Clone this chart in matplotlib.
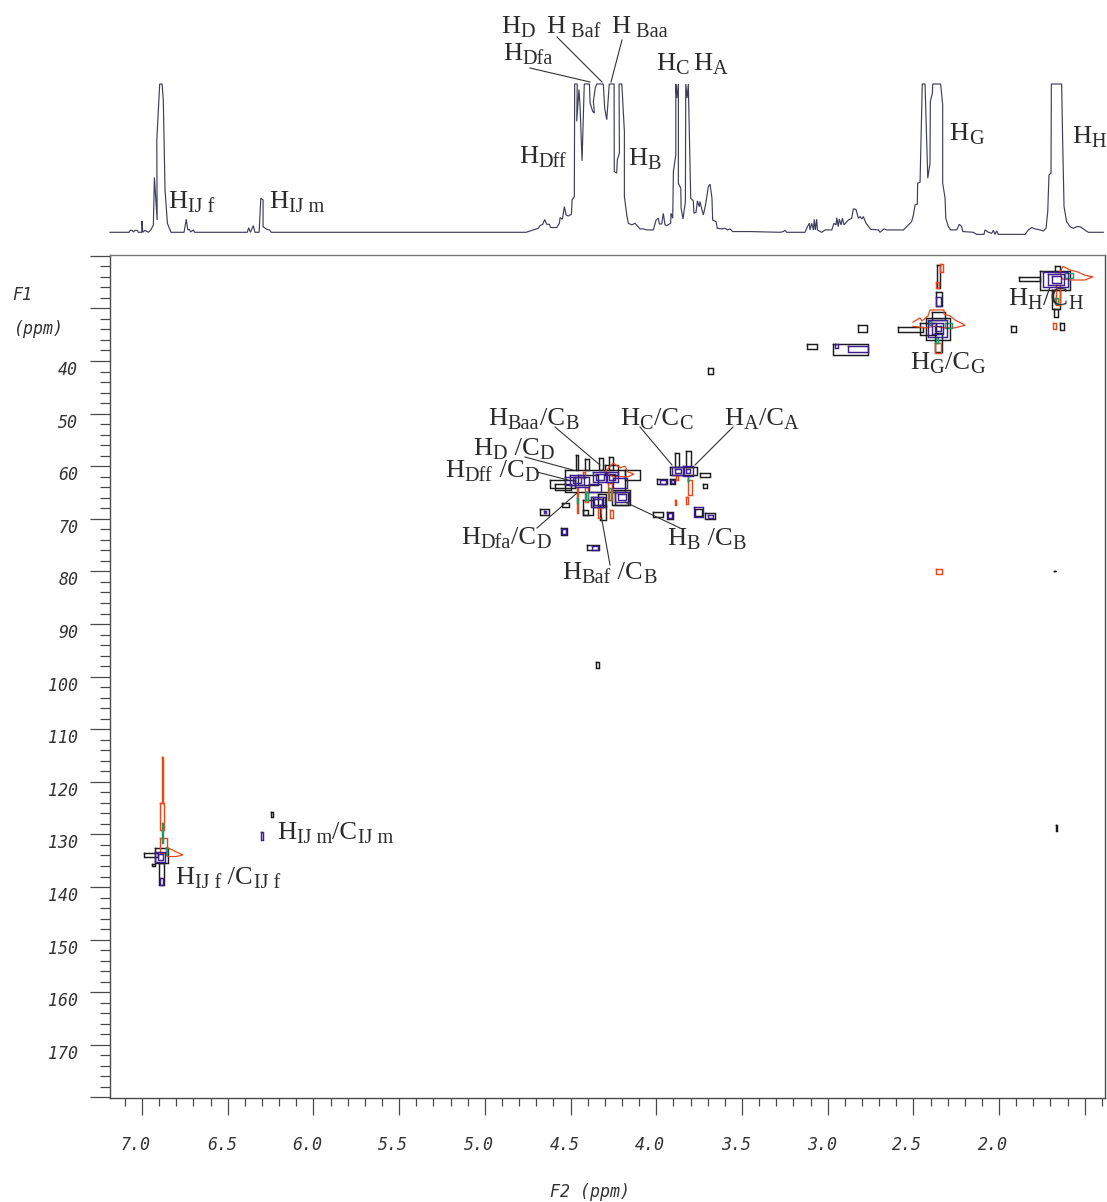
import matplotlib
matplotlib.use("Agg")
import matplotlib.pyplot as plt
from matplotlib.lines import Line2D
from matplotlib.transforms import ScaledTranslation

W, H = 1107, 1202
DPI = 100

# ---- 1D projection (F2 ppm, clipped intensity %) ----
trace_ppm = [7.187,7.076,7.070,7.058,7.051,7.041,7.027,7.022,7.002,7.000,6.996,6.983,6.963,6.949,6.934,6.928,6.912,6.914,6.897,6.883,6.876,6.866,6.852,6.831,
             6.755,6.742,6.733,6.724,6.716,6.701,6.693,6.386,6.378,6.368,6.351,6.341,6.317,6.307,6.294,6.294,6.272,6.257,6.246,
             4.760,4.736,4.688,4.678,4.662,4.651,4.639,4.624,4.616,4.581,4.565,4.561,4.548,4.536,4.526,4.513,4.495,4.491,4.478,4.476,4.461,4.464,4.451,4.445,4.433,4.420,
             4.390,4.386,4.371,4.361,4.367,4.356,4.347,4.309,4.301,4.289,4.274,4.246,4.245,4.231,4.227,4.215,4.217,4.201,4.186,4.186,4.172,4.163,4.143,4.124,4.095,
             4.075,4.056,4.017,4.001,3.988,3.982,3.968,3.959,3.949,3.939,3.916,3.914,3.904,3.900,3.886,3.886,3.880,3.871,3.871,3.857,3.855,3.844,3.830,3.828,3.820,3.813,
             3.799,3.784,3.780,3.768,3.760,3.749,3.745,3.731,3.725,3.711,3.696,3.686,3.675,3.671,3.651,3.644,3.618,3.599,3.585,3.570,3.554,3.453,
             3.278,3.258,3.249,3.239,3.132,3.118,3.107,3.103,3.093,3.083,3.078,3.072,3.064,3.060,3.035,3.015,2.976,2.963,2.951,2.947,2.938,2.932,2.922,2.914,2.905,2.879,2.860,2.850,2.835,2.821,2.811,2.801,2.792,2.776,2.749,2.704,2.695,2.671,2.656,
             2.558,2.510,2.500,2.490,2.477,2.475,2.461,2.448,2.432,2.416,2.403,2.401,2.389,2.387,2.341,2.329,2.329,2.315,2.311,2.296,2.282,2.247,2.232,2.218,2.212,2.150,2.131,2.088,2.082,2.062,2.043,2.033,2.024,2.014,2.004,
             1.849,1.829,1.810,1.790,1.761,1.742,1.726,1.716,1.709,1.697,1.695,1.635,1.629,1.621,1.606,1.586,1.567,1.547,1.528,1.499,1.479,1.392]
trace_int = [0,0,1.3,1.3,0.2,1.3,1.3,0,0,7.6,0,1.3,0,1.6,4.9,36.9,8.3,62,100,100,89,28.5,6,0,
             0,8.8,1.6,2,0.2,1.6,0,0,3.1,0,4.5,0,0,23,21.8,3.8,2,1.6,0,
             0,0.9,2.7,4.5,5.4,8.6,5.4,5.4,3.2,3.2,6.1,9.9,8.8,17.3,11.7,11,12.2,21.8,24.1,100,100,74.8,96.2,86,48.2,100,
             100,87.2,81.5,80.4,88.3,97.3,100,100,83.8,75.9,100,100,41,39.9,48.9,53.4,100,100,68,24.1,11.7,6.1,5,6.1,2.3,
             2.3,1.6,1.6,8.3,9.5,5.6,5.6,12.8,5,4.5,6.1,12.8,9.5,41,52.3,100,90.5,100,33.1,29.7,16.2,9,20.7,100,90.5,100,
             23,21.2,12.8,13.5,21.2,17.3,20.7,14,11.7,19.6,30.9,32.4,23,8.3,7.2,2.7,2.3,2.7,1.6,2.3,0.5,0.5,
             0,0.5,1.4,0,0,3.8,6.1,1.6,6.1,1.6,8.8,1.6,8.8,1.6,0,1.6,1.6,6.1,5,9.9,3.8,9,5,9.5,5,8.3,9.5,15.8,15.5,9.5,10.6,9,10.6,6.1,2,1.6,0,2.3,1.6,
             1.6,7.2,11.7,18.5,18.9,33.1,33.8,100,100,36.5,46.6,88.3,93.9,100,100,86,33.1,23,9.5,3.8,1.6,1.6,5.4,3.8,0.5,0,-1.4,-1.4,1.6,0,-0.7,1.4,-1.4,0.9,-1.4,
             -1.4,1.6,3.2,2.3,1.6,0.9,2.7,14,38.7,39.9,100,100,61.3,17.3,7.2,3.8,2.7,3.8,3.8,1.6,0,0]

# ---- 2D cross peaks: (F2 start, F2 end, F1 start, F1 end) ----
black_peaks = [
    (2.590,2.444,33.5,34.5),(2.461,2.368,32.8,35.1),(2.362,2.345,21.8,26.1),(2.368,2.333,26.9,29.6),(2.374,2.333,34.7,38.3),(2.426,2.286,31.8,36.0),(2.391,2.315,30.7,32.2),
    (1.883,1.761,24.0,24.8),(1.761,1.586,22.9,26.5),(1.673,1.644,21.9,23.1),(1.691,1.644,26.5,30.2),(1.679,1.655,30.2,31.6),(1.644,1.621,32.8,34.1),(1.930,1.901,33.4,34.5),
    (4.620,4.474,62.6,64.1),(4.468,4.456,57.9,60.7),(4.416,4.392,58.6,60.7),(4.334,4.311,58.4,60.7),(4.276,4.252,58.2,60.7),(4.532,4.182,60.7,64.9),(4.369,4.311,65.8,67.7),
    (4.427,4.398,68.3,69.3),(4.258,4.153,64.5,67.4),(4.328,4.293,67.4,70.2),(4.182,4.095,60.7,62.6),(4.456,4.340,61.7,63.6),(4.299,4.223,59.8,61.7),
    (4.427,4.369,66.4,69.3),(4.340,4.293,65.2,67.7),(4.241,4.165,64.9,67.4),(4.590,4.500,63.4,64.6),
    (4.678,4.626,68.1,69.3),(4.550,4.509,67.0,67.7),(4.556,4.521,71.7,73.1),(4.404,4.334,75.0,75.9),(4.019,3.960,68.7,69.6),(3.937,3.902,68.7,70.0),(3.774,3.733,68.1,69.5),
    (3.715,3.657,68.9,70.0),(3.996,3.937,62.4,63.4),(3.920,3.891,62.4,63.4),(3.745,3.686,61.3,62.0),(3.727,3.704,63.4,64.1),
    (3.920,3.762,60.1,61.7),(3.891,3.867,57.5,60.1),(3.826,3.797,57.1,60.1),
    (3.120,3.062,36.8,37.7),(2.969,2.764,36.8,38.9),(2.823,2.770,33.2,34.5),(3.698,3.669,41.3,42.5),(4.351,4.334,97.2,98.3),
    (1.679,1.667,79.9,80.0),(1.667,1.664,128.2,129.3),
    (6.988,6.907,133.5,134.2),(6.924,6.848,132.5,135.4),(6.901,6.872,135.4,139.6),(6.942,6.924,135.6,136.0),(6.247,6.236,125.7,126.6),
]
purple_peaks = [
    (2.414,2.303,32.2,35.4),(2.391,2.327,32.8,34.9),(2.374,2.339,33.4,34.3),(2.368,2.339,27.8,29.6),
    (1.743,1.597,23.1,25.9),(1.714,1.621,23.5,25.6),(1.691,1.638,23.9,25.2),
    (4.503,4.421,61.7,63.6),(4.486,4.439,62.0,63.2),(4.369,4.287,61.1,63.0),(4.351,4.305,61.5,62.6),(4.293,4.223,61.1,63.0),(4.276,4.241,61.5,62.6),(4.252,4.170,62.2,64.1),
    (4.381,4.299,65.8,67.7),(4.363,4.316,66.2,67.4),(4.241,4.159,64.9,66.8),(4.223,4.176,65.3,66.4),(4.392,4.322,63.4,64.9),(4.474,4.392,62.0,63.9),(4.532,4.474,62.0,63.6),
    (4.655,4.643,68.5,68.9),(4.550,4.526,71.9,72.9),(4.375,4.340,75.2,75.9),(3.931,3.908,68.9,69.8),(3.780,3.727,67.7,69.6),(3.698,3.669,69.3,69.8),(3.978,3.943,62.6,63.4),(3.914,3.896,62.6,63.2),
    (3.908,3.838,60.1,61.7),(3.891,3.855,60.5,61.3),(3.844,3.786,60.0,61.9),(3.826,3.803,60.5,61.3),
    (2.881,2.764,37.2,38.3),(2.957,2.939,36.8,37.5),
    (6.924,6.866,133.3,135.2),(6.907,6.877,133.7,134.8),(6.895,6.877,138.2,139.6),(6.306,6.294,129.5,131.0),
]
red_peaks = [
    (2.374,2.339,36.6,38.5),(2.345,2.327,21.6,23.1),(2.368,2.351,25.0,26.1),
    (1.667,1.644,25.6,29.4),(1.685,1.667,32.8,33.9),
    (4.465,4.456,64.1,68.9),(4.416,4.398,63.9,66.8),(4.282,4.258,63.2,66.4),(4.270,4.252,68.3,69.8),(4.340,4.322,67.9,69.8),(4.427,4.416,61.1,62.2),
    (3.885,3.873,61.7,62.6),(3.815,3.791,62.6,65.5),(3.888,3.882,66.4,67.4),(3.826,3.815,65.8,67.2),
    (2.368,2.333,79.5,80.5),
    (6.886,6.880,115.2,124.0),(6.895,6.872,124.0,129.1),(6.895,6.854,130.6,133.5),
]
green_peaks = [
    (2.315,2.274,32.8,33.7),(2.408,2.397,32.4,33.2),(2.368,2.356,35.4,36.6),
    (1.615,1.569,23.3,24.2),(1.673,1.655,28.0,29.2),
    (4.465,4.456,66.0,67.0),(4.410,4.398,64.9,66.4),(4.276,4.264,64.1,66.4),(3.817,3.812,62.0,63.0),
    (6.886,6.880,127.8,131.6),(6.860,6.854,132.5,133.9),
]
# irregular red contours (F2 points, F1 points)
red_g_f2 = [2.502,2.461,2.450,2.414,2.403,2.321,2.321,2.286,2.257,2.198,2.257,2.315,2.374,2.432,2.502]
red_g_f1 = [32.6,31.8,32.4,31.4,30.3,30.3,31.1,31.4,32.2,33.2,33.7,33.7,33.4,33.7,33.4]
red_h_f2 = [1.644,1.627,1.586,1.539,1.499,1.452,1.499,1.574,1.633,1.644]
red_h_f1 = [23.1,22.0,22.7,23.1,23.7,24.0,24.6,24.6,24.4,23.1]
red_ij_f2 = [6.854,6.825,6.802,6.761,6.802,6.854,6.854]
red_ij_f1 = [132.5,132.9,133.3,133.9,134.2,134.2,132.5]
red_m_f2 = [4.299,4.252,4.211,4.182,4.165,4.130,4.165,4.252,4.299]
red_m_f1 = [61.1,59.4,60.3,60.0,61.1,61.5,62.0,62.0,61.1]

# ---- axes ticks ----
f2_major = [7.0,6.5,6.0,5.5,5.0,4.5,4.0,3.5,3.0,2.5,2.0,1.5]
f2_labels = ['7.0','6.5','6.0','5.5','5.0','4.5','4.0','3.5','3.0','2.5','2.0','']
f1_major = [20,30,40,50,60,70,80,90,100,110,120,130,140,150,160,170,180]
f1_labels = ['','','40','50','60','70','80','90','100','110','120','130','140','150','160','170','']
f2_minor = [7.1,6.9,6.8,6.7,6.6,6.4,6.3,6.2,6.1,5.9,5.8,5.7,5.6,5.4,5.3,5.2,5.1,4.9,4.8,4.7,4.6,4.4,4.3,4.2,4.1,3.9,3.8,3.7,3.6,3.4,3.3,3.2,3.1,2.9,2.8,2.7,2.6,2.4,2.3,2.2,2.1,1.9,1.8,1.7,1.6,1.4]
f1_minor = [v + d for v in range(20, 180, 10) for d in (2, 4, 6, 8)]

# ---- annotation texts: segments (text, is_subscript), left px, baseline px ----
labels = [
    ([('H',0),('D',1)], 501, 33), ([('H',0),(' Baf',1)], 546, 33), ([('H',0),(' Baa',1)], 611, 33),
    ([('H',0),('Dfa',1)], 503, 60), ([('H',0),('C',1)], 656, 70), ([('H',0),('A',1)], 693, 70),
    ([('H',0),('Dff',1)], 519, 163), ([('H',0),('B',1)], 628, 165), ([('H',0),('G',1)], 949, 140), ([('H',0),('H',1)], 1072, 143),
    ([('H',0),('IJ f',1)], 168, 208), ([('H',0),('IJ m',1)], 269, 208),
    ([('H',0),('H',1),('/C',0),('H',1)], 1008, 305), ([('H',0),('G',1),('/C',0),('G',1)], 910, 369),
    ([('H',0),('Baa',1),('/C',0),('B',1)], 488, 425), ([('H',0),('C',1),('/C',0),('C',1)], 620, 425), ([('H',0),('A',1),('/C',0),('A',1)], 724, 425),
    ([('H',0),('D',1),(' /C',0),('D',1)], 473, 455), ([('H',0),('Dff',1),(' /C',0),('D',1)], 445, 477),
    ([('H',0),('Dfa',1),('/C',0),('D',1)], 461, 544), ([('H',0),('B',1),(' /C',0),('B',1)], 667, 545), ([('H',0),('Baf',1),(' /C',0),('B',1)], 562, 579),
    ([('H',0),('IJ m',1),('/C',0),('IJ m',1)], 277, 839), ([('H',0),('IJ f',1),(' /C',0),('IJ f',1)], 175, 884),
]
leaders = [((530,68),(590,82)),((557,37),(602,82)),((622,40),(611,82)),
           ((555,427),(600,465)),((640,427),(672,465)),((733,427),(695,465)),((525,457),(573,470)),
           ((537,472),(568,480)),((537,528),(577,493)),((680,528),(625,502)),((610,565),(601,515))]

TEXT = '#2b2b2b'; AXC = '#4a4a4a'
COL_BLACK, COL_PURPLE, COL_RED, COL_GREEN = '#1c1c1c', '#3d1f8f', '#e8481c', '#1f9a63'

fig = plt.figure(figsize=(W/DPI, H/DPI), dpi=DPI, facecolor='white')
left, right, top, bot = 110, 1105, 255, 1098
ax = fig.add_axes([left/W, 1-bot/H, (right-left)/W, (bot-top)/H])
F2L, F2R = 7.187, 1.382
F1T, F1B = 19.85, 180.1
ax.set_xlim(F2L, F2R); ax.set_ylim(F1B, F1T)

tr = fig.add_axes([left/W, 1-232.3/H, (right-left)/W, (232.3-84)/H])
tr.set_xlim(F2L, F2R); tr.set_ylim(0, 100); tr.axis('off')
tr.plot(trace_ppm, trace_int, color='#3f3f5c', lw=0.85, clip_on=False, solid_joinstyle='miter')

def box(p, col, lw=1.05):
    a, b, c, d = p
    ax.plot([a,b,b,a,a],[c,c,d,d,c], color=col, lw=lw, solid_joinstyle='miter')

for p in black_peaks: box(p, COL_BLACK)
for p in red_peaks: box(p, COL_RED)
for xs, ys in [(red_g_f2, red_g_f1), (red_h_f2, red_h_f1), (red_ij_f2, red_ij_f1), (red_m_f2, red_m_f1)]:
    ax.plot(xs, ys, color=COL_RED, lw=0.9, solid_joinstyle='miter')
for p in green_peaks: box(p, COL_GREEN)
for p in purple_peaks: box(p, COL_PURPLE)

ax.set_xticks(f2_major); ax.set_xticklabels(f2_labels)
ax.set_xticks(f2_minor, minor=True)
ax.set_yticks(f1_major); ax.set_yticklabels(f1_labels)
ax.set_yticks(f1_minor, minor=True)
mono = dict(family='DejaVu Sans Mono', style='oblique', size=12, color='#333333')
ax.tick_params(axis='x', which='major', length=12.2, width=0.9, color=AXC, pad=15)
ax.tick_params(axis='x', which='minor', length=6, width=0.9, color=AXC)
ax.tick_params(axis='y', which='major', length=14.4, width=0.9, color=AXC, pad=8.5)
ax.tick_params(axis='y', which='minor', length=7.2, width=0.9, color=AXC)
off_x = ScaledTranslation(-6/DPI, 0, fig.dpi_scale_trans)
off_y = ScaledTranslation(0, -7/DPI, fig.dpi_scale_trans)
for lab in ax.get_xticklabels():
    lab.set(**mono); lab.set_transform(lab.get_transform() + off_x)
for lab in ax.get_yticklabels():
    lab.set(**mono); lab.set_transform(lab.get_transform() + off_y)
for s in ax.spines.values():
    s.set_color(AXC); s.set_linewidth(1.0)
ax.spines['top'].set_color('#777777')

fig.text(12/W, 1-295/H, 'F1', ha='left', va='center', **mono)
fig.text(14/W, 1-329/H, '(ppm)', ha='left', va='center', **mono)
fig.text(590/W, 1-1192/H, 'F2 (ppm)', ha='center', va='center', **mono)

fig.canvas.draw()
rend = fig.canvas.get_renderer()
for segs, x, y in labels:
    cx = x
    for s, sub in segs:
        yy = y + (4 if sub else 0)
        t = fig.text(cx/W, 1-yy/H, s, family='Liberation Serif', size=14.6 if sub else 19,
                     color=TEXT, ha='left', va='baseline')
        cx += t.get_window_extent(rend).width + (4 if (sub and s.startswith(' ')) else 0) + 0.5

for (x0,y0),(x1,y1) in leaders:
    fig.add_artist(Line2D([x0/W,x1/W],[1-y0/H,1-y1/H], color='#333333', lw=0.8, transform=fig.transFigure))

fig.savefig('out.png', dpi=DPI, facecolor='white')
